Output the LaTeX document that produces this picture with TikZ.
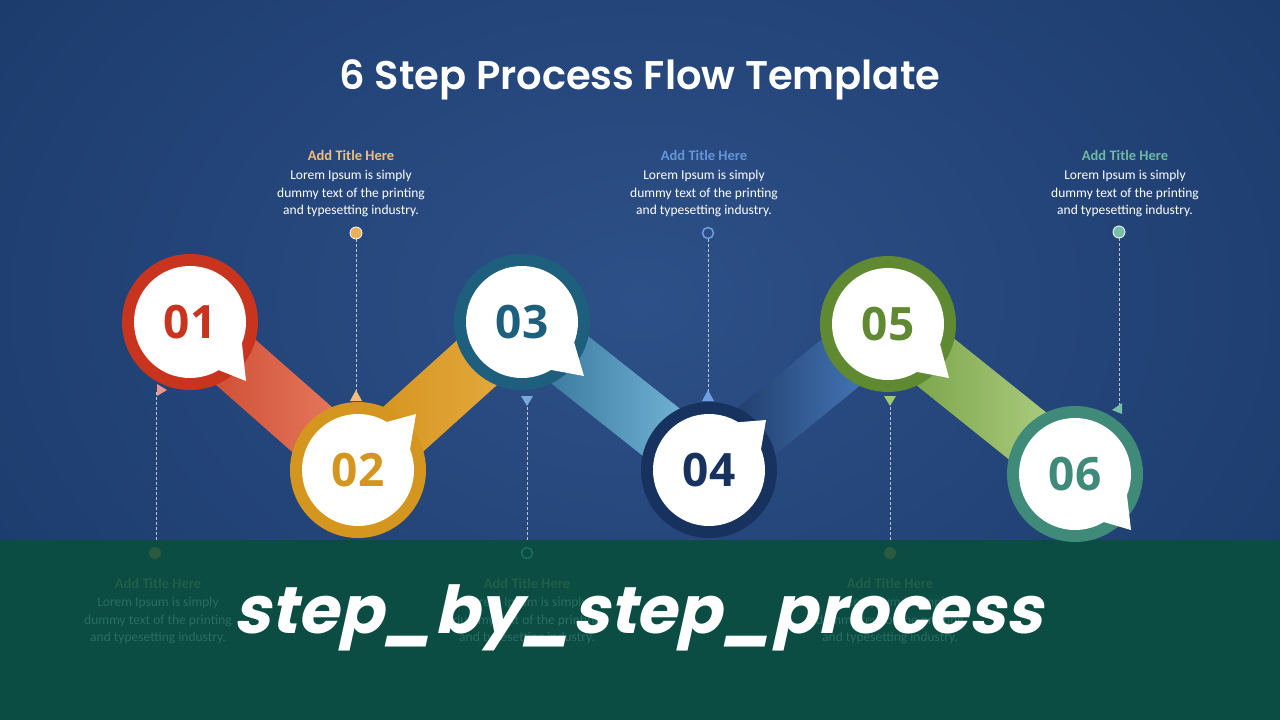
\documentclass[tikz,border=0pt]{standalone}
\usepackage{fontspec}
\setmainfont{Carlito}
\newfontfamily\popb{Poppins}[UprightFont=* Bold, FakeSlant=0.22]
\newfontfamily\titf{Poppins}[UprightFont=* SemiBold]
\newfontfamily\numf{Open Sans}[UprightFont=* Bold]
\usetikzlibrary{calc}
\definecolor{bgc}{HTML}{2D5088}
\definecolor{bge}{HTML}{1B3A6B}
\definecolor{band}{HTML}{0B4D42}
\definecolor{r1a}{HTML}{C9432A}\definecolor{r1b}{HTML}{EB8468}
\definecolor{r2a}{HTML}{D38F17}\definecolor{r2b}{HTML}{E6AE45}
\definecolor{r3a}{HTML}{2A6A90}\definecolor{r3b}{HTML}{82C2E4}
\definecolor{r4a}{HTML}{152C55}\definecolor{r4b}{HTML}{4F86CC}
\definecolor{r5a}{HTML}{6E9A3C}\definecolor{r5b}{HTML}{B9D78E}
\definecolor{k1}{RGB}{201,52,31}\definecolor{k2}{RGB}{212,150,30}
\definecolor{k3}{RGB}{31,95,126}\definecolor{k4}{RGB}{24,50,95}
\definecolor{k5}{RGB}{95,138,50}\definecolor{k6}{RGB}{63,138,120}
\definecolor{ty}{RGB}{240,190,120}\definecolor{tb}{RGB}{100,150,215}\definecolor{tg}{RGB}{110,185,160}
\definecolor{dy}{RGB}{233,175,90}\definecolor{db}{RGB}{110,160,225}\definecolor{dg}{RGB}{120,190,170}
\definecolor{ap}{RGB}{235,150,140}\definecolor{ab}{RGB}{120,170,220}\definecolor{ag}{RGB}{160,200,110}
\definecolor{fa}{RGB}{44,90,62}\definecolor{fb}{RGB}{30,110,95}\definecolor{ft}{RGB}{30,95,72}\definecolor{fx}{RGB}{40,110,98}
\definecolor{dl}{RGB}{190,195,210}
\begin{document}
\begin{tikzpicture}[x=1pt,y=-1pt,
  num/.style={font=\numf\fontsize{46}{46}\selectfont},
  ttl/.style={font=\bfseries\fontsize{14.5}{16}\selectfont,align=center},
  body/.style={font=\fontsize{13.5}{17.5}\selectfont,align=center,text=white},
  dln/.style={dl,line width=0.7pt,dash pattern=on 3pt off 2pt}]
\useasboundingbox (0,0) rectangle (1280,720);
\shade[inner color=bgc,outer color=bge] (-200,-300) rectangle (1480,900);
\fill[band] (0,540) rectangle (1280,720);
\node[font=\titf\fontsize{40}{40}\selectfont,text=white] (title) at (640,80) {6 Step Process Flow Template};
\coordinate (c1) at (190,322);\coordinate (c2) at (358,470);\coordinate (c3) at (522,322);
\coordinate (c4) at (709,470);\coordinate (c5) at (888,324);\coordinate (c6) at (1075,474);
\newcommand\rib[4]{\shade[left color=#3,right color=#4]
  ($(#1)!30pt!90:(#2)$) -- ($(#2)!30pt!-90:(#1)$) -- ($(#2)!30pt!90:(#1)$) -- ($(#1)!30pt!-90:(#2)$) -- cycle;}
\rib{c1}{c2}{r1a}{r1b}
\rib{c2}{c3}{r2a}{r2b}
\rib{c3}{c4}{r3a}{r3b}
\rib{c4}{c5}{r4a}{r4b}
\rib{c5}{c6}{r5a}{r5b}
% callout lines
\draw[dln] (356,239) -- (356,392);
\fill[ty] (350,401) -- (362,401) -- (356,390) -- cycle;
\fill[dy,draw=white,line width=0.8pt] (356,233) circle (6);
\draw[dln] (708,239) -- (708,392);
\fill[db] (702,401) -- (714,401) -- (708,390) -- cycle;
\draw[db,line width=1.5pt] (708,233) circle (5.5);
\draw[dln] (1119,238) -- (1119,405);
\fill[dg] (1122,403) -- (1122,414) -- (1112,410) -- cycle;
\fill[dg,draw=white,line width=0.8pt] (1119,232) circle (6);
\draw[dln] (156,392) -- (156,540);
\fill[ap] (157,384) -- (157,396) -- (167,390) -- cycle;
\draw[dln] (527,402) -- (527,540);
\fill[ab] (521,396) -- (533,396) -- (527,406) -- cycle;
\draw[dln] (890,402) -- (890,540);
\fill[ag] (884,396) -- (896,396) -- (890,406) -- cycle;
% faded bottom callouts
\fill[fa] (155,553) circle (6);
\draw[fb,line width=1.5pt] (527,553) circle (5.5);
\fill[fa] (890,553) circle (6);
\foreach \x/\n in {158/b1,527/b2,890/b3}{
 \node[ttl,text=ft] (\n t) at (\x,583) {Add Title Here};
 \node[body,text=fx,anchor=north] (\n b) at (\x,594) {Lorem Ipsum is simply\\dummy text of the printing\\and typesetting industry.};}
% top callouts
\node[ttl,text=ty] (t1) at (351,155) {Add Title Here};
\node[ttl,text=tb] (t2) at (704,155) {Add Title Here};
\node[ttl,text=tg] (t3) at (1125,155) {Add Title Here};
\foreach \x/\n in {351/a1,704/a2,1125/a3}
 \node[body,anchor=north] (\n) at (\x,167) {Lorem Ipsum is simply\\dummy text of the printing\\and typesetting industry.};
% circles
\newcommand\stp[5]{%
  \fill[#2] (#1) circle (68);
  \fill[white] (#1) circle (56);
  \fill[white] ($(#1)+(#3:55)$) -- #5 -- ($(#1)+(#4:55)$) -- cycle;}
\stp{c1}{k1}{20}{60}{(246,381)}
\stp{c2}{k2}{-20}{-60}{(416,414)}
\stp{c3}{k3}{20}{60}{(584,376)}
\stp{c4}{k4}{-20}{-60}{(766,420)}
\stp{c5}{k5}{20}{60}{(949,378)}
\stp{c6}{k6}{20}{60}{(1131,530)}
\node[num,text=k1] (n1) at (c1) {01};
\node[num,text=k2] (n2) at (c2) {02};
\node[num,text=k3] (n3) at (c3) {03};
\node[num,text=k4] (n4) at (c4) {04};
\node[num,text=k5] (n5) at (c5) {05};
\node[num,text=k6] (n6) at (c6) {06};
\node[font=\popb\fontsize{66}{66}\selectfont,text=white] (ov) at (638,618) {step\_by\_step\_process};
\end{tikzpicture}
\end{document}
